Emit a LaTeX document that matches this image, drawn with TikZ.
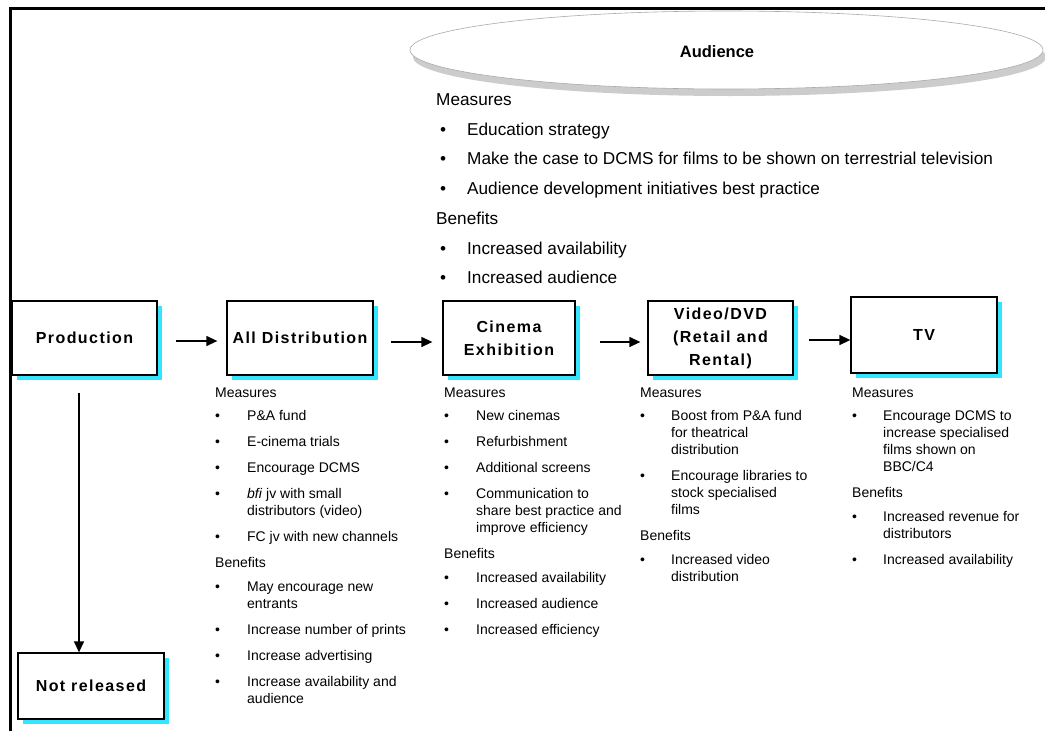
\documentclass[tikz,border=0pt]{standalone}
\usepackage{fontspec}
\setmainfont{Liberation Sans}
\newfontfamily\boxfont{Liberation Sans}[LetterSpace=9]
\usetikzlibrary{arrows.meta,shapes.geometric,shadows}

\definecolor{shadowcyan}{RGB}{51,229,255}
\definecolor{ovalshadow}{RGB}{204,204,204}
\definecolor{ovaledge}{RGB}{170,170,170}

% heading row spanning the bullet and text columns
\newcommand\hdrow[1]{\multicolumn{2}{@{}l@{}}{#1}}

\begin{document}
\begin{tikzpicture}[x=1pt,y=-1pt,
  stage/.style={draw=black, line width=1.3pt, fill=white, inner sep=0pt, align=center,
    font=\boxfont\bfseries\fontsize{16}{23}\selectfont,
    drop shadow={shadow xshift=5pt, shadow yshift=-5pt, fill=shadowcyan, opacity=1}},
  flow/.style={-{Triangle[length=11pt,width=10pt]}, line width=1.3pt},
  notes/.style={anchor=base west, inner sep=0pt, font=\fontsize{14}{17}\selectfont},
  topnotes/.style={anchor=base west, inner sep=0pt, font=\fontsize{17.2}{29.7}\selectfont},
  ]
\useasboundingbox (0,0) rectangle (1045,731);

% page frame
\draw[line width=3pt] (1045,8.5) -- (10.5,8.5) -- (10.5,731);

% audience oval
\node[ellipse, draw=ovaledge, line width=0.6pt, fill=white, minimum width=633pt,
  minimum height=78pt, inner sep=0pt,
  drop shadow={shadow xshift=3pt, shadow yshift=-7pt, fill=ovalshadow, opacity=1}]
  (oval) at (726.5,50) {};
\node[font=\bfseries\fontsize{16.5}{19}\selectfont] (audlabel) at (717,52) {Audience};

\node[topnotes] (audnotes) at (436,105.5) {\begin{tabular}[t]{@{}p{31pt}@{}l@{}}
\hdrow{Measures}\\
\hspace*{4pt}\textbullet & Education strategy\\
\hspace*{4pt}\textbullet & Make the case to DCMS for films to be shown on terrestrial television\\
\hspace*{4pt}\textbullet & Audience development initiatives best practice\\
\hdrow{Benefits}\\
\hspace*{4pt}\textbullet & Increased availability\\
\hspace*{4pt}\textbullet & Increased audience
\end{tabular}};

% stages
\node[stage, minimum width=145pt, minimum height=74pt] (prod) at (84.5,338) {Production};
\node[stage, minimum width=146pt, minimum height=74pt] (dist) at (300,338) {All Distribution};
\node[stage, minimum width=132pt, minimum height=74pt] (cin) at (509,338) {Cinema\\Exhibition};
\node[stage, minimum width=145pt, minimum height=74pt] (vid) at (720.5,338) {Video/DVD\\(Retail and\\Rental)};
\node[stage, minimum width=146pt, minimum height=76pt] (tv) at (924,335) {TV};
\node[stage, minimum width=146pt, minimum height=66pt] (notrel) at (91,686) {Not released};

% flow arrows
\draw[flow, shorten <=18pt, shorten >=9pt] ([yshift=-3pt]prod.east) -- ([yshift=-3pt]dist.west);
\draw[flow, shorten <=17pt, shorten >=10pt] ([yshift=-4pt]dist.east) -- ([yshift=-4pt]cin.west);
\draw[flow, shorten <=24pt, shorten >=7pt] ([yshift=-4pt]cin.east) -- ([yshift=-4pt]vid.west);
\draw[flow, shorten <=15pt] ([yshift=-2pt]vid.east) -- ([yshift=-2pt]vid.east -| tv.west);
\draw[flow, shorten <=17pt] ([xshift=-5.5pt]prod.south) -- ([xshift=-5.5pt]prod.south |- notrel.north);

% measures and benefits under each stage
\node[notes] (distnotes) at (215,397.5) {\begin{tabular}[t]{@{}p{32pt}@{}l@{}}
\hdrow{Measures}\\[6pt]
\textbullet & P\&A fund\\[8.9pt]
\textbullet & E-cinema trials\\[8.9pt]
\textbullet & Encourage DCMS\\[8.9pt]
\textbullet & \textit{bfi} jv with small\\
 & distributors (video)\\[8.9pt]
\textbullet & FC jv with new channels\\[8.9pt]
\hdrow{Benefits}\\[7.5pt]
\textbullet & May encourage new\\
 & entrants\\[8.9pt]
\textbullet & Increase number of prints\\[8.9pt]
\textbullet & Increase advertising\\[8.9pt]
\textbullet & Increase availability and\\
 & audience
\end{tabular}};

\node[notes] (cinnotes) at (444,397.5) {\begin{tabular}[t]{@{}p{32pt}@{}l@{}}
\hdrow{Measures}\\[6pt]
\textbullet & New cinemas\\[8.9pt]
\textbullet & Refurbishment\\[8.9pt]
\textbullet & Additional screens\\[8.9pt]
\textbullet & Communication to\\
 & share best practice and\\
 & improve efficiency\\[8.9pt]
\hdrow{Benefits}\\[7.5pt]
\textbullet & Increased availability\\[8.9pt]
\textbullet & Increased audience\\[8.9pt]
\textbullet & Increased efficiency
\end{tabular}};

\node[notes] (vidnotes) at (640,397.5) {\begin{tabular}[t]{@{}p{31pt}@{}l@{}}
\hdrow{Measures}\\[6pt]
\textbullet & Boost from P\&A fund\\
 & for theatrical\\
 & distribution\\[8.9pt]
\textbullet & Encourage libraries to\\
 & stock specialised\\
 & films\\[8.9pt]
\hdrow{Benefits}\\[7.5pt]
\textbullet & Increased video\\
 & distribution
\end{tabular}};

\node[notes] (tvnotes) at (852,397.5) {\begin{tabular}[t]{@{}p{31pt}@{}l@{}}
\hdrow{Measures}\\[6pt]
\textbullet & Encourage DCMS to\\
 & increase specialised\\
 & films shown on\\
 & BBC/C4\\[8.9pt]
\hdrow{Benefits}\\[7.5pt]
\textbullet & Increased revenue for\\
 & distributors\\[8.9pt]
\textbullet & Increased availability
\end{tabular}};
\end{tikzpicture}
\end{document}
